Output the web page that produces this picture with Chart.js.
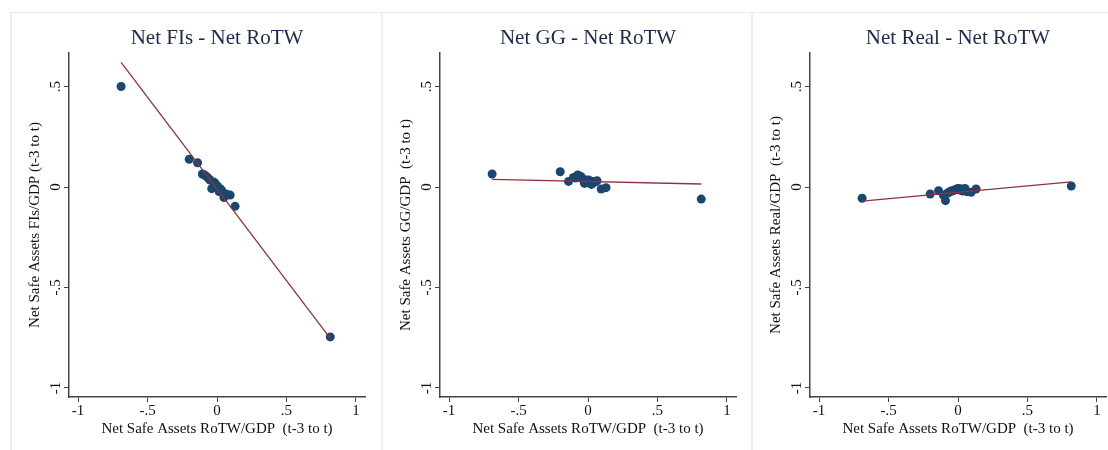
<!DOCTYPE html>
<html>
<head>
<meta charset="utf-8">
<script src="https://cdn.jsdelivr.net/npm/chart.js@4/dist/chart.umd.min.js"></script>
<style>
  html, body { margin: 0; padding: 0; background: #fff; }
  body { width: 1108px; height: 450px; position: relative; overflow: hidden; }
  .frame { position: absolute; top: 12px; height: 438px; border-top: 1px solid #e4eded; border-left: 2px solid #e9f1f1; box-sizing: border-box; }
  canvas { position: absolute; top: 0; }
</style>
</head>
<body>
<div class="frame" style="left:10px;width:371px"></div>
<div class="frame" style="left:381px;width:370px"></div>
<div class="frame" style="left:751px;width:357px"></div>
<canvas id="c1" width="370" height="450" style="left:10px"></canvas>
<canvas id="c2" width="370" height="450" style="left:381px"></canvas>
<canvas id="c3" width="370" height="450" style="left:751px"></canvas>
<script>
// same x for all three panels: Net Safe Assets RoTW/GDP
const rotwX = [-0.69, -0.20, -0.14, -0.105, -0.09, -0.075, -0.06, -0.05, -0.038, -0.025, -0.015,
               -0.005, 0.005, 0.015, 0.025, 0.035, 0.05, 0.065, 0.095, 0.13, 0.815];
const fisY  = [0.50, 0.138, 0.121, 0.065, 0.060, 0.052, 0.042, 0.035, -0.008, 0.025, 0.020,
               0.010, 0.003, -0.022, -0.010, -0.018, -0.052, -0.035, -0.040, -0.096, -0.746];
const ggY   = [0.065, 0.076, 0.028, 0.048, 0.045, 0.060, 0.055, 0.051, 0.040, 0.018, 0.035,
               0.030, 0.035, 0.020, 0.013, 0.028, 0.025, 0.031, -0.010, -0.003, -0.060];
const realY = [-0.056, -0.035, -0.018, -0.040, -0.068, -0.030, -0.025, -0.020, -0.018, -0.015, -0.012,
               -0.008, -0.007, -0.015, -0.010, -0.020, -0.007, -0.023, -0.026, -0.010, 0.005];

// fitted lines (end points)
const fitX     = [-0.69, 0.815];
const fisFitY  = [0.620, -0.753];
const ggFitY   = [0.038, 0.015];
const realFitY = [-0.070, 0.026];

const xTicks = [-1, -0.5, 0, 0.5, 1];
const yTicks = [-1, -0.5, 0, 0.5];

const titles = ['Net FIs - Net RoTW', 'Net GG - Net RoTW', 'Net Real - Net RoTW'];
const yTitles = ['Net Safe Assets FIs/GDP (t-3 to t)', 'Net Safe Assets GG/GDP  (t-3 to t)', 'Net Safe Assets Real/GDP  (t-3 to t)'];
const xTitle = 'Net Safe Assets RoTW/GDP  (t-3 to t)';

const serif = "'Liberation Serif', 'Times New Roman', serif";
const axisColor = '#444';

function stataLabel(v) {
    return String(v).replace('0.', '.');
}

function toPoints(xs, ys) {
    return xs.map((x, i) => ({ x: x, y: ys[i] }));
}

function makeChart(id, title, yTitle, ys, fitYs) {
    new Chart(document.getElementById(id), {
        type: 'scatter',
        data: {
            datasets: [
                {
                    data: toPoints(fitX, fitYs),
                    showLine: true,
                    borderColor: '#8e3339',
                    borderWidth: 1.3,
                    pointRadius: 0,
                    fill: false
                },
                {
                    data: toPoints(rotwX, ys),
                    backgroundColor: '#1a476f',
                    borderWidth: 0,
                    pointRadius: 4.5
                }
            ]
        },
        options: {
            responsive: false,
            animation: false,
            layout: { padding: { left: 0, right: 15, top: 0, bottom: 0 } },
            plugins: {
                legend: { display: false },
                tooltip: { enabled: false },
                title: {
                    display: true,
                    text: title,
                    fullSize: false,
                    color: '#1b2a4e',
                    font: { family: serif, size: 21, weight: 'normal', lineHeight: 1.2 },
                    padding: { top: 25.4, bottom: 2.4 }
                }
            },
            scales: {
                x: {
                    type: 'linear',
                    min: -1.065,
                    max: 1.065,
                    afterBuildTicks: s => { s.ticks = xTicks.map(v => ({ value: v })); },
                    afterFit: s => { s.height = 53; },
                    grid: { drawOnChartArea: false, drawTicks: true, tickLength: 5, color: axisColor },
                    border: { display: true, color: axisColor, width: 1.5 },
                    ticks: {
                        autoSkip: false,
                        maxRotation: 0,
                        padding: 0,
                        color: '#111',
                        font: { family: serif, size: 15 },
                        callback: v => stataLabel(v)
                    },
                    title: {
                        display: true,
                        text: xTitle,
                        color: '#111',
                        font: { family: serif, size: 15, lineHeight: 1.2 },
                        padding: { top: 0, bottom: 12 }
                    }
                },
                y: {
                    type: 'linear',
                    min: -1.045,
                    max: 0.667,
                    afterBuildTicks: s => { s.ticks = yTicks.map(v => ({ value: v })); },
                    afterFit: s => { s.width = 59; },
                    grid: { drawOnChartArea: false, drawTicks: true, tickLength: 5, color: axisColor },
                    border: { display: true, color: axisColor, width: 1.5 },
                    ticks: {
                        autoSkip: false,
                        minRotation: 90,
                        maxRotation: 90,
                        crossAlign: 'center',
                        padding: 0,
                        color: '#111',
                        font: { family: serif, size: 15 },
                        callback: v => stataLabel(v)
                    },
                    title: {
                        display: true,
                        text: yTitle,
                        color: '#111',
                        font: { family: serif, size: 15, lineHeight: 1.2 },
                        padding: { top: 16, bottom: 0 }
                    }
                }
            }
        }
    });
}

makeChart('c1', titles[0], yTitles[0], fisY, fisFitY);
makeChart('c2', titles[1], yTitles[1], ggY, ggFitY);
makeChart('c3', titles[2], yTitles[2], realY, realFitY);
</script>
</body>
</html>
